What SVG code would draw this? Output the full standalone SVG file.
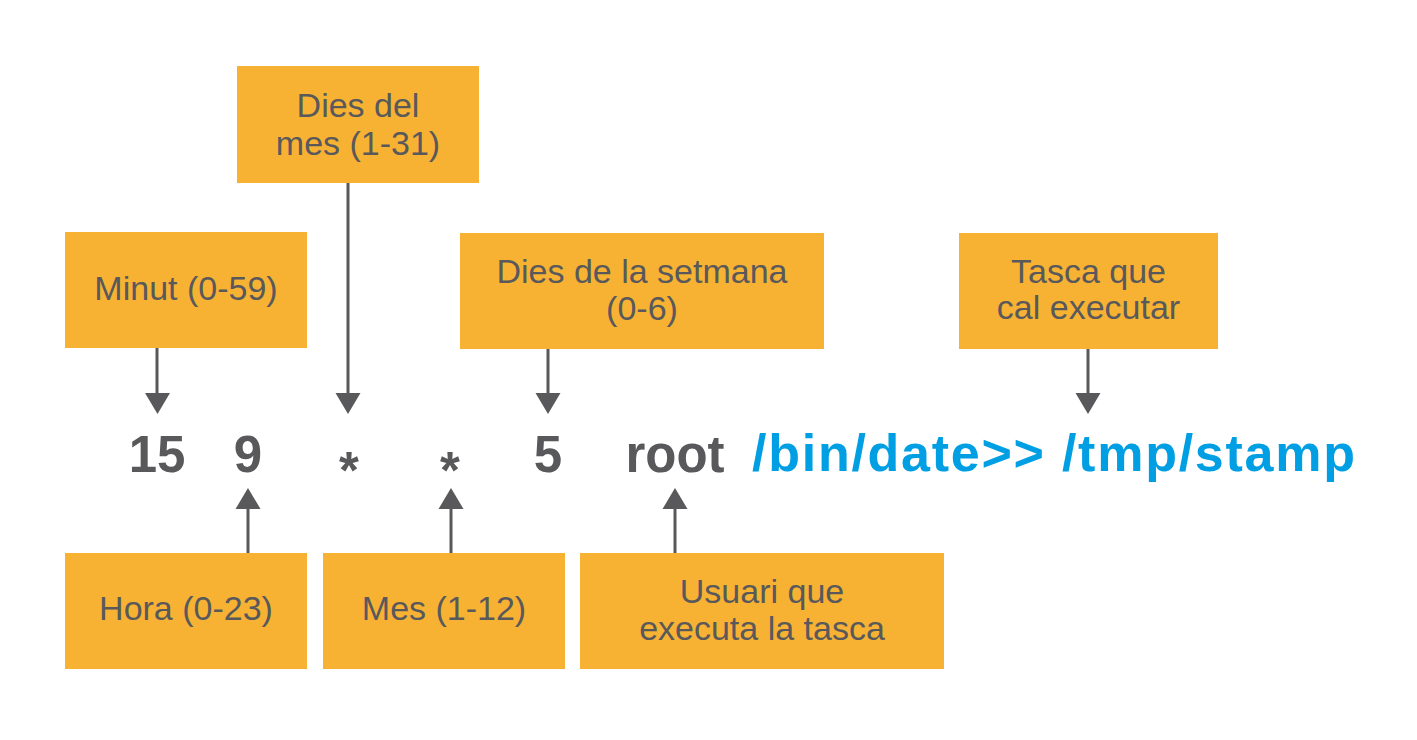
<svg xmlns="http://www.w3.org/2000/svg" width="1417" height="740" viewBox="0 0 1417 740">
<defs>
<style>
.box{fill:#f7b234}
.lbl{font-family:"Liberation Sans",Arial,Helvetica,sans-serif;font-size:34px;fill:#59595b;text-anchor:middle}
.main{font-family:"Liberation Sans",Arial,Helvetica,sans-serif;font-size:51px;font-weight:bold;fill:#59595b;text-anchor:middle}
.cmd{font-family:"Liberation Sans",Arial,Helvetica,sans-serif;font-size:52px;font-weight:bold;fill:#009fe3}
.ln{stroke:#59595b;stroke-width:3;fill:none}
.hd{fill:#59595b}
</style>
</defs>
<rect width="1417" height="740" fill="#ffffff"/>
<g id="node-dies-mes"><rect class="box" x="237" y="66" width="242" height="117"/><text class="lbl" x="358" y="117">Dies del</text><text class="lbl" x="358" y="155">mes (1-31)</text></g>
<g id="node-minut"><rect class="box" x="65" y="232" width="242" height="116"/><text class="lbl" x="186" y="300">Minut (0-59)</text></g>
<g id="node-dies-setmana"><rect class="box" x="460" y="233" width="364" height="116"/><text class="lbl" x="642" y="283">Dies de la setmana</text><text class="lbl" x="642" y="320">(0-6)</text></g>
<g id="node-tasca"><rect class="box" x="959" y="233" width="259" height="116"/><text class="lbl" x="1088.5" y="283">Tasca que</text><text class="lbl" x="1088.5" y="319">cal executar</text></g>
<g id="node-hora"><rect class="box" x="65" y="553" width="242" height="116"/><text class="lbl" x="186" y="620">Hora (0-23)</text></g>
<g id="node-mes"><rect class="box" x="323" y="553" width="242" height="116"/><text class="lbl" x="444" y="620">Mes (1-12)</text></g>
<g id="node-usuari"><rect class="box" x="580" y="553" width="364" height="116"/><text class="lbl" x="762" y="603">Usuari que</text><text class="lbl" x="762" y="640">executa la tasca</text></g>
<g id="cron-line">
<text class="main" x="157" y="472">15</text>
<text class="main" x="248" y="472">9</text>
<text class="main" x="349" y="488">*</text>
<text class="main" x="450" y="488">*</text>
<text class="main" x="548" y="472">5</text>
<text class="main" x="675" y="472">root</text>
<text class="cmd" x="752" y="471" textLength="603" lengthAdjust="spacing">/bin/date&gt;&gt; /tmp/stamp</text>
</g>
<g id="connectors">
<line class="ln" x1="157" y1="348" x2="157" y2="395"/><polygon class="hd" points="145,393 170,393 157.5,414"/>
<line class="ln" x1="348" y1="183" x2="348" y2="395"/><polygon class="hd" points="335.5,393 360.5,393 348,414"/>
<line class="ln" x1="548" y1="349" x2="548" y2="395"/><polygon class="hd" points="535.5,393 560.5,393 548,414"/>
<line class="ln" x1="1088" y1="349" x2="1088" y2="395"/><polygon class="hd" points="1075.5,393 1100.5,393 1088,414"/>
<line class="ln" x1="248" y1="553" x2="248" y2="507"/><polygon class="hd" points="235.5,509 260.5,509 248,488"/>
<line class="ln" x1="451" y1="553" x2="451" y2="507"/><polygon class="hd" points="438.5,509 463.5,509 451,488"/>
<line class="ln" x1="675" y1="553" x2="675" y2="507"/><polygon class="hd" points="662.5,509 687.5,509 675,488"/>
</g>
</svg>
